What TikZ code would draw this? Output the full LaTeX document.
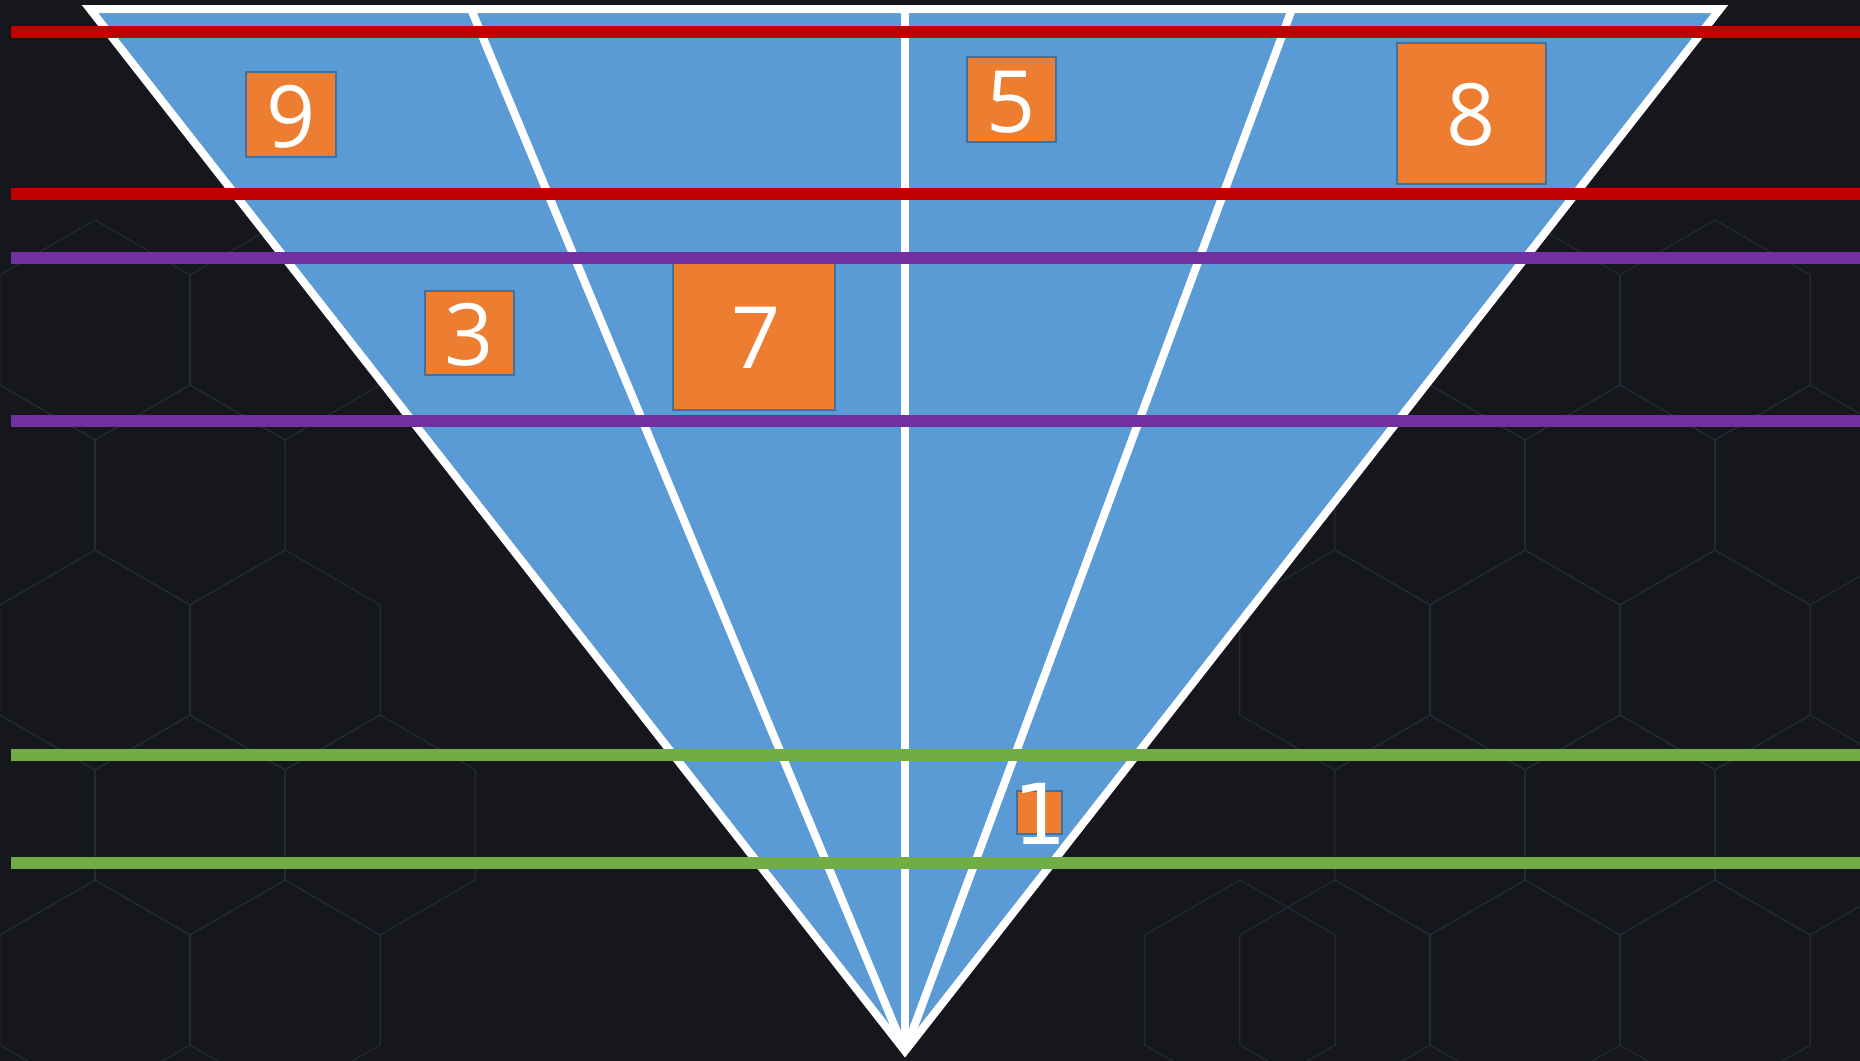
\documentclass[tikz,border=0pt]{standalone}
\usepackage{fontspec}
\setmainfont{Open Sans}
\newfontfamily\onefont{DejaVu Sans}
\definecolor{bgcol}{HTML}{15171C}
\definecolor{hexcol}{HTML}{232935}
\definecolor{tricol}{HTML}{5B9BD5}
\definecolor{boxcol}{HTML}{ED7D31}
\definecolor{boxline}{HTML}{41719C}
\definecolor{redcol}{HTML}{C00000}
\definecolor{purcol}{HTML}{7030A0}
\definecolor{grncol}{HTML}{70AD47}
\begin{document}
\begin{tikzpicture}[x=0.5pt,y=-0.5pt,
  wline/.style={draw=white,line width=4pt},
  hline/.style={line width=6pt},
  numbox/.style={draw=boxline,fill=boxcol,line width=1pt,inner sep=0pt,rectangle},
  numtxt/.style={text=white,inner sep=0pt,font=\fontsize{43}{45}\selectfont},
  hexline/.style={draw=hexcol,line width=0.6pt}]
\useasboundingbox (0,0) rectangle (1860,1061);
\fill[bgcol] (0,0) rectangle (1860,1061);
% faint background pattern
\foreach \cx/\cy in {95/330,285/330,190/495,0/495,95/660,285/660,190/825,380/825,0/825,95/990,285/990,
  1525/330,1715/330,1620/495,1810/495,1430/495,1525/660,1715/660,1335/660,1620/825,1430/825,1810/825,1525/990,1335/990,1715/990,1240/990}
  \draw[hexline] (\cx,\cy) +(90:110) -- +(150:110) -- +(210:110) -- +(270:110) -- +(330:110) -- +(30:110) -- cycle;
% triangle geometry
\coordinate (TL) at (90,9);
\coordinate (TR) at (1720,9);
\coordinate (A) at (905,1051);
\coordinate (IL) at (471,9);
\coordinate (TC) at (905,9);
\coordinate (IR) at (1292,9);
\fill[tricol] (TL) -- (TR) -- (A) -- cycle;
\draw[wline] (IL) -- (A);
\draw[wline] (TC) -- (A);
\draw[wline] (IR) -- (A);
\draw[wline,line join=miter] (TL) -- (TR) -- (A) -- cycle;
% boxes
\node[numbox,minimum width=45pt,minimum height=42.5pt] (b9) at (291,114.5) {};
\node[numbox,minimum width=44.5pt,minimum height=42pt] (b3) at (469.5,333) {};
\node[numbox,minimum width=81pt,minimum height=73.5pt] (b7) at (754,336.5) {};
\node[numbox,minimum width=44.5pt,minimum height=42.5pt] (b5) at (1011.5,99.5) {};
\node[numbox,minimum width=74.5pt,minimum height=70.5pt] (b8) at (1471.5,113.5) {};
\node[numbox,minimum width=22.5pt,minimum height=21.5pt] (b1) at (1039.5,812.5) {};
\node[numtxt] (t9) at (291,116.5) {9};
\node[numtxt] (t3) at (469,335) {3};
\node[numtxt] (t7) at (756,338) {7};
\node[numtxt] (t5) at (1011,102) {5};
\node[numtxt] (t8) at (1471,115) {8};
\node[numtxt,font=\onefont\fontsize{42}{44}\selectfont] (t1) at (1040,814) {1};
% horizontal bands
\coordinate (r1a) at (11,32);  \coordinate (r1b) at (1860,32);
\coordinate (r2a) at (11,194); \coordinate (r2b) at (1860,194);
\coordinate (p1a) at (11,258); \coordinate (p1b) at (1860,258);
\coordinate (p2a) at (11,421); \coordinate (p2b) at (1860,421);
\coordinate (g1a) at (11,755); \coordinate (g1b) at (1860,755);
\coordinate (g2a) at (11,863); \coordinate (g2b) at (1860,863);
\draw[hline,redcol] (r1a) -- (r1b);
\draw[hline,redcol] (r2a) -- (r2b);
\draw[hline,purcol] (p1a) -- (p1b);
\draw[hline,purcol] (p2a) -- (p2b);
\draw[hline,grncol] (g1a) -- (g1b);
\draw[hline,grncol] (g2a) -- (g2b);
\end{tikzpicture}
\end{document}
